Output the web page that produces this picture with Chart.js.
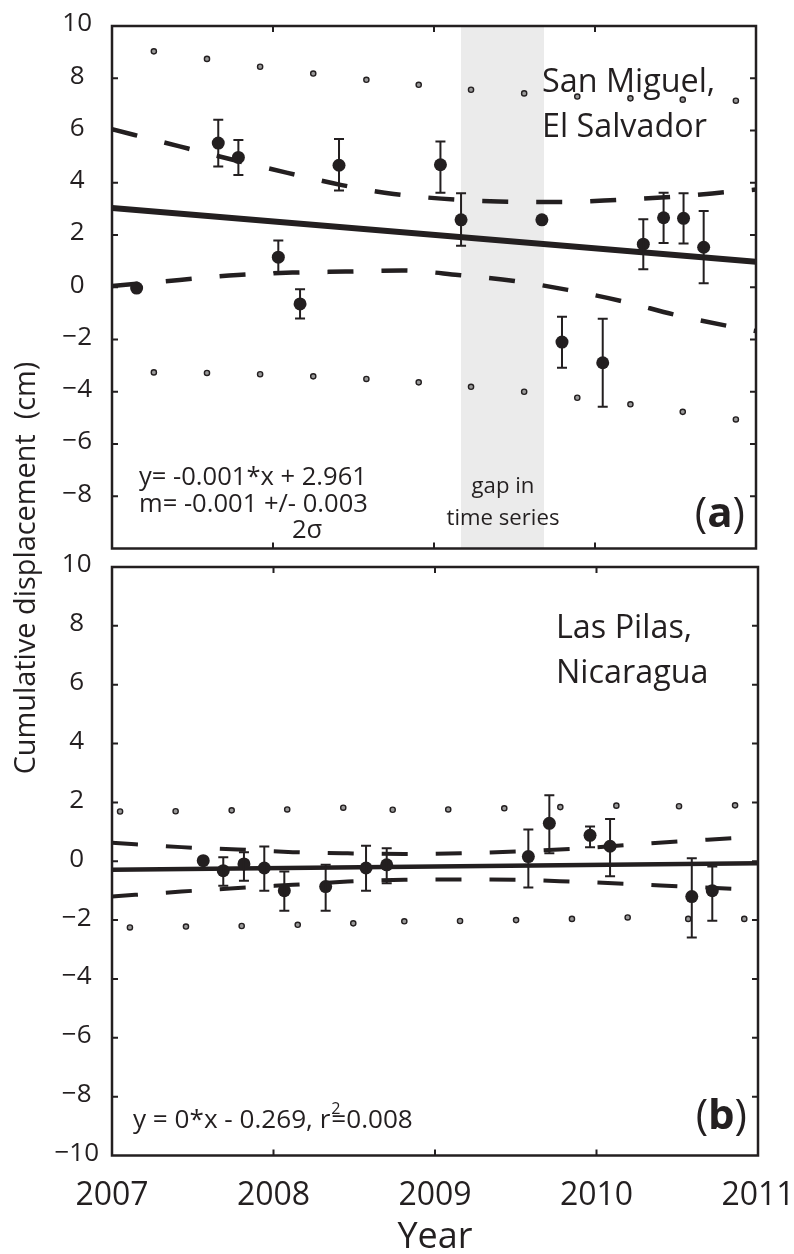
<!DOCTYPE html>
<html>
<head>
<meta charset="utf-8">
<script src="https://cdn.jsdelivr.net/npm/chart.js@4.4.1/dist/chart.umd.min.js"></script>
<style>
  html, body { margin: 0; padding: 0; background: #ffffff; }
  #wrap { position: relative; width: 794px; height: 1254px; overflow: hidden; background: #ffffff; }
  canvas { position: absolute; left: 0; }
  #c1 { top: 0; width: 794px; height: 1254px; }
  #c2 { top: 540px; width: 794px; height: 714px; }
</style>
</head>
<body>
<div id="wrap">
  <canvas id="c1" width="794" height="1254"></canvas>
  <canvas id="c2" width="794" height="714"></canvas>
</div>
<script>
// ---------------- data ----------------
const yearTicks = [2007, 2008, 2009, 2010, 2011];
const dispTicks = [-10, -8, -6, -4, -2, 0, 2, 4, 6, 8, 10];

// Panel (a): San Miguel, El Salvador
const aYears    = [2007.153, 2007.66, 2007.785, 2008.033, 2008.168, 2008.41, 2009.04, 2009.168, 2009.67, 2009.795, 2010.048, 2010.30, 2010.426, 2010.55, 2010.675];
const aDisp     = [-0.03, 5.52, 4.97, 1.15, -0.64, 4.67, 4.69, 2.58, 2.58, -2.10, -2.89, 1.65, 2.66, 2.64, 1.53];
const aErrHigh  = [null, 6.41, 5.64, 1.79, -0.08, 5.67, 5.58, 3.60, null, -1.13, -1.21, 2.60, 3.62, 3.60, 2.92];
const aErrLow   = [null, 4.62, 4.30, 0.57, -1.20, 3.70, 3.62, 1.59, null, -3.08, -4.57, 0.69, 1.69, 1.67, 0.15];
const aFitYears = [2007, 2011];
const aFit      = [3.03, 0.98];
const aConfUpYears = [2007, 2007.42, 2007.75, 2008.09, 2008.42, 2008.75, 2009.4, 2009.8, 2010.15, 2010.5, 2010.85, 2011];
const aConfUp      = [6.05, 5.39, 4.88, 4.38, 3.92, 3.57, 3.28, 3.26, 3.35, 3.47, 3.66, 3.74];
const aConfLoYears = [2007, 2007.42, 2007.78, 2008.12, 2008.45, 2008.8, 2009.15, 2009.5, 2009.83, 2010.18, 2010.5, 2010.85, 2011];
const aConfLo      = [0.05, 0.28, 0.47, 0.56, 0.60, 0.64, 0.47, 0.24, -0.10, -0.55, -1.06, -1.51, -1.68];
const aPredYears   = [2007.26, 2007.59, 2007.92, 2008.25, 2008.58, 2008.905, 2009.23, 2009.56, 2009.89, 2010.22, 2010.545, 2010.875];
const aPredUp      = [9.03, 8.74, 8.44, 8.18, 7.94, 7.75, 7.56, 7.42, 7.30, 7.23, 7.18, 7.14];
const aPredLo      = [-3.26, -3.28, -3.33, -3.41, -3.51, -3.64, -3.81, -4.00, -4.23, -4.48, -4.77, -5.06];
const aGap         = [2009.168, 2009.683];

// Panel (b): Las Pilas, Nicaragua
const bYears    = [2007.565, 2007.689, 2007.817, 2007.943, 2008.067, 2008.323, 2008.573, 2008.701, 2009.578, 2009.708, 2009.96, 2010.084, 2010.59, 2010.717];
const bDisp     = [0.02, -0.32, -0.09, -0.23, -1.00, -0.86, -0.23, -0.12, 0.16, 1.29, 0.88, 0.51, -1.20, -1.00];
const bErrHigh  = [null, 0.14, 0.31, 0.50, -0.35, -0.12, 0.53, 0.44, 1.08, 2.24, 1.18, 1.44, 0.10, -0.18];
const bErrLow   = [null, -0.83, -0.66, -1.00, -1.68, -1.68, -1.00, -0.75, -0.89, 0.27, 0.48, -0.51, -2.59, -2.02];
const bFitYears = [2007, 2011];
const bFit      = [-0.29, -0.07];
const bConfYears = [2007, 2007.43, 2007.78, 2008.12, 2008.46, 2008.81, 2009.16, 2009.5, 2009.84, 2010.19, 2010.53, 2010.88, 2011];
const bConfUp    = [0.63, 0.48, 0.40, 0.31, 0.27, 0.25, 0.27, 0.33, 0.42, 0.55, 0.68, 0.80, 0.85];
const bConfLo    = [-1.20, -1.03, -0.91, -0.80, -0.69, -0.63, -0.62, -0.63, -0.69, -0.77, -0.86, -0.95, -1.00];
const bPredUpYears = [2007.05, 2007.394, 2007.741, 2008.085, 2008.432, 2008.738, 2009.082, 2009.429, 2009.776, 2010.123, 2010.511, 2010.858];
const bPredUp      = [1.69, 1.70, 1.73, 1.76, 1.82, 1.75, 1.76, 1.80, 1.84, 1.89, 1.87, 1.90];
const bPredLoYears = [2007.111, 2007.458, 2007.803, 2008.15, 2008.494, 2008.81, 2009.155, 2009.502, 2009.848, 2010.193, 2010.568, 2010.915];
const bPredLo      = [-2.25, -2.22, -2.20, -2.16, -2.11, -2.04, -2.03, -2.00, -1.96, -1.91, -1.96, -1.96];

// ---------------- style ----------------
const INK = '#231f20';
const FONT = '"Open Sans", "Noto Sans", sans-serif';

function pts(xs, ys) { return xs.map((x, i) => ({ x: x, y: ys[i] })); }
function fmtDisp(v) { return v < 0 ? '\u2212' + Math.abs(v) : String(v); }

function fitSize(ctx, text, weight, base, targetW) {
  ctx.font = weight + ' ' + base + 'px ' + FONT;
  return base * targetW / ctx.measureText(text).width;
}
function put(ctx, text, x, y, size, align, weight) {
  ctx.font = (weight || 'normal') + ' ' + size + 'px ' + FONT;
  ctx.textAlign = align || 'left';
  ctx.textBaseline = 'alphabetic';
  ctx.fillStyle = INK;
  ctx.fillText(text, x, y);
}
function panelLetter(ctx, letter, right, base, size) {
  ctx.font = 'normal ' + size + 'px ' + FONT;
  const wp = ctx.measureText(')').width;
  const wo = ctx.measureText('(').width;
  ctx.font = 'bold ' + size + 'px ' + FONT;
  const wl = ctx.measureText(letter).width;
  let x = right - wp - wl - wo;
  put(ctx, '(', x, base, size, 'left', 'normal'); x += wo;
  put(ctx, letter, x, base, size, 'left', 'bold'); x += wl;
  put(ctx, ')', x, base, size, 'left', 'normal');
}

function errorBarPlugin(xs, hi, lo) {
  return {
    id: 'errbars',
    afterDatasetsDraw(chart) {
      const { ctx, scales: { x, y } } = chart;
      ctx.save();
      ctx.strokeStyle = INK; ctx.lineWidth = 2;
      xs.forEach((xv, i) => {
        if (hi[i] === null) return;
        const px = x.getPixelForValue(xv);
        const pt = y.getPixelForValue(hi[i]);
        const pb = y.getPixelForValue(lo[i]);
        ctx.beginPath();
        ctx.moveTo(px, pt); ctx.lineTo(px, pb);
        ctx.moveTo(px - 5, pt); ctx.lineTo(px + 5, pt);
        ctx.moveTo(px - 5, pb); ctx.lineTo(px + 5, pb);
        ctx.stroke();
      });
      ctx.restore();
    }
  };
}

const framePlugin = {
  id: 'frame',
  afterDatasetsDraw(chart) {
    const { ctx, chartArea: a, scales: { x, y } } = chart;
    ctx.save();
    ctx.strokeStyle = INK;
    ctx.lineWidth = 2.5;
    ctx.strokeRect(a.left, a.top, a.right - a.left, a.bottom - a.top);
    ctx.lineWidth = 2;
    const tl = 6;
    ctx.beginPath();
    yearTicks.forEach(v => {
      if (v === x.min || v === x.max) return;
      const px = x.getPixelForValue(v);
      ctx.moveTo(px, a.top); ctx.lineTo(px, a.top + tl);
      ctx.moveTo(px, a.bottom); ctx.lineTo(px, a.bottom - tl);
    });
    dispTicks.forEach(v => {
      if (v === y.min || v === y.max) return;
      const py = y.getPixelForValue(v);
      ctx.moveTo(a.left, py); ctx.lineTo(a.left + tl, py);
      ctx.moveTo(a.right, py); ctx.lineTo(a.right - tl, py);
    });
    ctx.stroke();
    ctx.restore();
  }
};

function datasets(P, fitW, dashW) {
  return [
    { data: pts(P.years, P.disp), pointRadius: 6.5, pointHoverRadius: 6.5, backgroundColor: INK, borderWidth: 0, order: 0 },
    { data: pts(P.fitYears, P.fit), showLine: true, borderColor: INK, borderWidth: fitW, pointRadius: 0, order: 1 },
    { data: pts(P.upYears, P.up), showLine: true, borderColor: INK, borderWidth: dashW, borderDash: [26, 28], cubicInterpolationMode: 'monotone', pointRadius: 0, order: 2 },
    { data: pts(P.loYears, P.lo), showLine: true, borderColor: INK, borderWidth: dashW, borderDash: [26, 28], cubicInterpolationMode: 'monotone', pointRadius: 0, order: 3 },
    { data: pts(P.pUpYears, P.pUp), pointRadius: 2.6, borderWidth: 1.4, borderColor: INK, backgroundColor: '#9a9a9a', order: 4 },
    { data: pts(P.pLoYears, P.pLo), pointRadius: 2.6, borderWidth: 1.4, borderColor: INK, backgroundColor: '#9a9a9a', order: 5 }
  ];
}

function options(cfg) {
  return {
    responsive: false, animation: false, devicePixelRatio: 1, events: [],
    layout: { padding: cfg.pad },
    plugins: { legend: { display: false }, tooltip: { enabled: false } },
    scales: {
      x: {
        type: 'linear', min: 2007, max: 2011,
        afterBuildTicks: s => { s.ticks = yearTicks.map(v => ({ value: v })); },
        ticks: { display: cfg.xLabels, autoSkip: false, maxRotation: 0, padding: 21, color: INK,
                 font: { family: FONT, size: 32 }, callback: v => String(v) },
        grid: { display: false, drawTicks: false },
        border: { display: false },
        title: { display: cfg.xLabels, text: 'Year', color: INK,
                 font: { family: FONT, size: 36, lineHeight: 0.9 }, padding: { top: 0, bottom: 0 } },
        afterFit: s => { s.height = cfg.xH; s.paddingLeft = 0; s.paddingRight = 0; }
      },
      y: {
        type: 'linear', min: -10, max: 10,
        afterBuildTicks: s => { s.ticks = dispTicks.map(v => ({ value: v })); },
        ticks: { crossAlign: 'center', padding: cfg.yPad, color: INK, labelOffset: -2,
                 font: { family: FONT, size: 26 },
                 callback: v => (cfg.hideBottom && v === -10) ? '' : fmtDisp(v) },
        grid: { display: false, drawTicks: false },
        border: { display: false },
        afterFit: s => { s.width = 112; s.paddingTop = 0; s.paddingBottom = 0; }
      }
    }
  };
}

// ---------------- panel (a) ----------------
const PA = { years: aYears, disp: aDisp, fitYears: aFitYears, fit: aFit,
  upYears: aConfUpYears, up: aConfUp, loYears: aConfLoYears, lo: aConfLo,
  pUpYears: aPredYears, pUp: aPredUp, pLoYears: aPredYears, pLo: aPredLo };

const gapPlugin = {
  id: 'gap',
  beforeDatasetsDraw(chart) {
    const { ctx, chartArea: a, scales: { x } } = chart;
    const x0 = x.getPixelForValue(aGap[0]), x1 = x.getPixelForValue(aGap[1]);
    ctx.save();
    ctx.fillStyle = '#ebebeb';
    ctx.fillRect(x0, a.top, x1 - x0, a.bottom - a.top);
    ctx.restore();
  }
};

const textA = {
  id: 'textA',
  afterDraw(chart) {
    const ctx = chart.ctx;
    ctx.save();
    const big = fitSize(ctx, 'El Salvador', 'normal', 30, 165);
    put(ctx, 'San Miguel,', 542, 92, big);
    put(ctx, 'El Salvador', 542, 137, big);
    const gs = fitSize(ctx, 'time series', 'normal', 22, 113);
    put(ctx, 'gap in', 503, 493, gs, 'center');
    put(ctx, 'time series', 503, 525, gs, 'center');
    const fs = fitSize(ctx, 'y= -0.001*x + 2.961', 'normal', 22, 228);
    put(ctx, 'y= -0.001*x + 2.961', 139, 485, fs);
    put(ctx, 'm= -0.001 +/- 0.003', 139, 512, fs);
    put(ctx, '2\u03c3', 307, 538, fs, 'center');
    panelLetter(ctx, 'a', 745, 527, 42);
    // shared y-axis title
    const ts = fitSize(ctx, 'Cumulative displacement  (cm)', 'normal', 28, 413);
    ctx.translate(35, 568);
    ctx.rotate(-Math.PI / 2);
    put(ctx, 'Cumulative displacement  (cm)', 0, 0, ts, 'center');
    ctx.restore();
  }
};

new Chart(document.getElementById('c1'), {
  type: 'scatter',
  data: { datasets: datasets(PA, 6, 4.5) },
  options: options({ pad: { left: 0, top: 26, right: 38, bottom: 705.5 }, xLabels: false, xH: 0, yPad: 20, hideBottom: true }),
  plugins: [gapPlugin, errorBarPlugin(aYears, aErrHigh, aErrLow), framePlugin, textA]
});

// ---------------- panel (b) ----------------
const PB = { years: bYears, disp: bDisp, fitYears: bFitYears, fit: bFit,
  upYears: bConfYears, up: bConfUp, loYears: bConfYears, lo: bConfLo,
  pUpYears: bPredUpYears, pUp: bPredUp, pLoYears: bPredLoYears, pLo: bPredLo };

const textB = {
  id: 'textB',
  afterDraw(chart) {
    const ctx = chart.ctx;
    ctx.save();
    const big = fitSize(ctx, 'El Salvador', 'normal', 30, 165);
    put(ctx, 'Las Pilas,', 556, 98, big);
    put(ctx, 'Nicaragua', 556, 143, big);
    const fs = fitSize(ctx, 'y = 0*x - 0.269, r=0.008', 'normal', 22, 279);
    const head = 'y = 0*x - 0.269, r';
    put(ctx, head, 133, 588, fs);
    ctx.font = 'normal ' + fs + 'px ' + FONT;
    const wh = ctx.measureText(head).width;
    put(ctx, '2', 133 + wh + 1, 574, fs * 0.62);
    put(ctx, '=0.008', 133 + wh + 1, 588, fs);
    panelLetter(ctx, 'b', 747, 589, 42);
    ctx.restore();
  }
};

new Chart(document.getElementById('c2'), {
  type: 'scatter',
  data: { datasets: datasets(PB, 4.5, 4) },
  options: options({ pad: { left: 0, top: 27, right: 36, bottom: 0 }, xLabels: true, xH: 98.5, yPad: 13, hideBottom: false }),
  plugins: [errorBarPlugin(bYears, bErrHigh, bErrLow), framePlugin, textB]
});
</script>
</body>
</html>
